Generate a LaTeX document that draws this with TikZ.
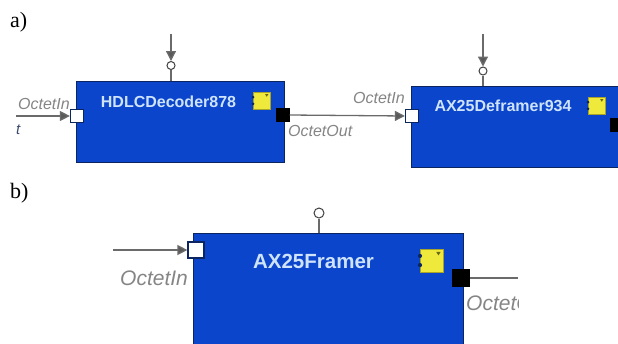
\documentclass[tikz,border=0pt]{standalone}
\usepackage{fontspec}
\setmainfont{Liberation Sans}
\newfontfamily\serifcap{Liberation Serif}
\usetikzlibrary{arrows.meta}
\definecolor{blockblue}{HTML}{0A45CC}
\definecolor{blockedge}{HTML}{0A2560}
\definecolor{titleblue}{HTML}{CFE3FB}
\definecolor{wiregray}{HTML}{6A6A6A}
\definecolor{labelgray}{HTML}{858585}
\definecolor{iconyellow}{HTML}{EFE93C}
\newcommand{\iconmarks}[2]{%
  % #1 = icon node name, #2 = icon size
  \fill[blockedge] (#1.north west) ++(0,#2*0.30) circle[radius=#2*0.09];
  \fill[blockedge] (#1.north west) ++(0,#2*0.70) circle[radius=#2*0.09];
  \fill[iconyellow!45!black] (#1.north east) ++(-#2*0.32,#2*0.12) -- ++(#2*0.2,0) -- ++(-#2*0.1,#2*0.16) -- cycle;
}
\tikzset{
  x=1pt,y=-1pt,
  caplabel/.style={font=\serifcap\fontsize{22}{24}\selectfont,inner sep=0pt,anchor=west,text=black},
  blockbox/.style={draw=blockedge,line width=1.3pt,fill=blockblue,anchor=north west,inner sep=0pt},
  blocktitle/.style={font=\bfseries\fontsize{#1}{#1}\selectfont,text=titleblue,inner sep=0pt},
  portlabel/.style={font=\itshape\fontsize{#1}{#1}\selectfont,text=labelgray,inner sep=0pt},
  inport/.style={draw=blockedge,line width=1.2pt,fill=white,minimum size=#1,inner sep=0pt},
  outport/.style={draw=black,fill=black,minimum size=#1,inner sep=0pt},
  lolli/.style={draw=black!75,line width=1pt,fill=white,circle,inner sep=0pt,minimum size=#1},
  wire/.style={draw=wiregray,line width=1.3pt},
  arrowwire/.style={wire,-{Triangle[length=10pt,width=10pt,fill=wiregray!85!black]}},
  iconbody/.style={fill=iconyellow,draw=iconyellow!70!black,line width=.5pt,inner sep=0pt,anchor=north west},
}
\begin{document}
\begin{tikzpicture}
\useasboundingbox (0,0) rectangle (618,343);

\node[caplabel] (capa) at (10,22) {a)};
\node[caplabel] (capb) at (10,193) {b)};

% --- a) left block
\node[blockbox,minimum width=208,minimum height=81] (dec) at (76,81) {};
\node[blocktitle=16] (dectitle) at (168.5,101.5) {HDLCDecoder878};
\node[iconbody,minimum width=17,minimum height=17] (decicon) at (253,92) {};
\iconmarks{decicon}{17}
\node[inport=13] (decin) at (77,116) {};
\node[outport=13] (decout) at (283,115) {};
\node[lolli=8] (declol) at (171,65.5) {};
\coordinate (dectop) at (171,34);
\coordinate (decleft) at (16,116);
\draw[wire] (declol) -- (171,81);
\draw[arrowwire] (dectop) -- (declol.north);
\draw[arrowwire] (decleft) -- (decin.west);
\node[portlabel=16,anchor=west] (decinl) at (18,104) {OctetIn};
\node[portlabel=15,anchor=west] (frag) at (16,130) {\textcolor{blockedge!60!labelgray}{t}};
\node[portlabel=16,anchor=west] (decoutl) at (288,131) {OctetOut};

% --- a) right block
\begin{scope}
\clip (0,0) rectangle (618,343);
\node[blockbox,minimum width=230,minimum height=81] (def) at (411,86) {};
\node[outport=13] (defout) at (617,125) {};
\end{scope}
\node[blocktitle=16] (deftitle) at (503,106) {AX25Deframer934};
\node[iconbody,minimum width=17,minimum height=17] (deficon) at (588,97) {};
\iconmarks{deficon}{17}
\node[inport=13] (defin) at (412,116) {};
\node[lolli=8] (deflol) at (483,71) {};
\coordinate (deftop) at (483,34);
\draw[wire] (deflol) -- (483,86);
\draw[arrowwire] (deftop) -- (deflol.north);
\draw[arrowwire] (decout.east) -- (defin.west);
\node[portlabel=16,anchor=west] (definl) at (353,98) {OctetIn};

% --- b) block
\begin{scope}
\clip (0,0) rectangle (618,343);
\node[blockbox,minimum width=270,minimum height=130] (fra) at (193,233) {};
\end{scope}
\node[blocktitle=20.5] (fratitle) at (313.5,261) {AX25Framer};
\node[iconbody,minimum width=23,minimum height=23] (fraicon) at (420,249) {};
\iconmarks{fraicon}{23}
\node[inport=16] (frain) at (196,250) {};
\node[outport=17] (fraout) at (461,278) {};
\node[lolli=10] (fralol) at (319,213) {};
\coordinate (fraleft) at (113,250);
\coordinate (fraright) at (518,278);
\draw[wire] (fralol) -- (319,233);
\draw[arrowwire] (fraleft) -- (frain.west);
\draw[wire] (fraout) -- (fraright);
\node[portlabel=21,anchor=west] (frainl) at (120,278) {OctetIn};
\begin{scope}
\clip (460,285) rectangle (518,325);
\node[portlabel=21,anchor=west] (fraoutl) at (466,303) {OctetOut};
\end{scope}
\end{tikzpicture}
\end{document}
